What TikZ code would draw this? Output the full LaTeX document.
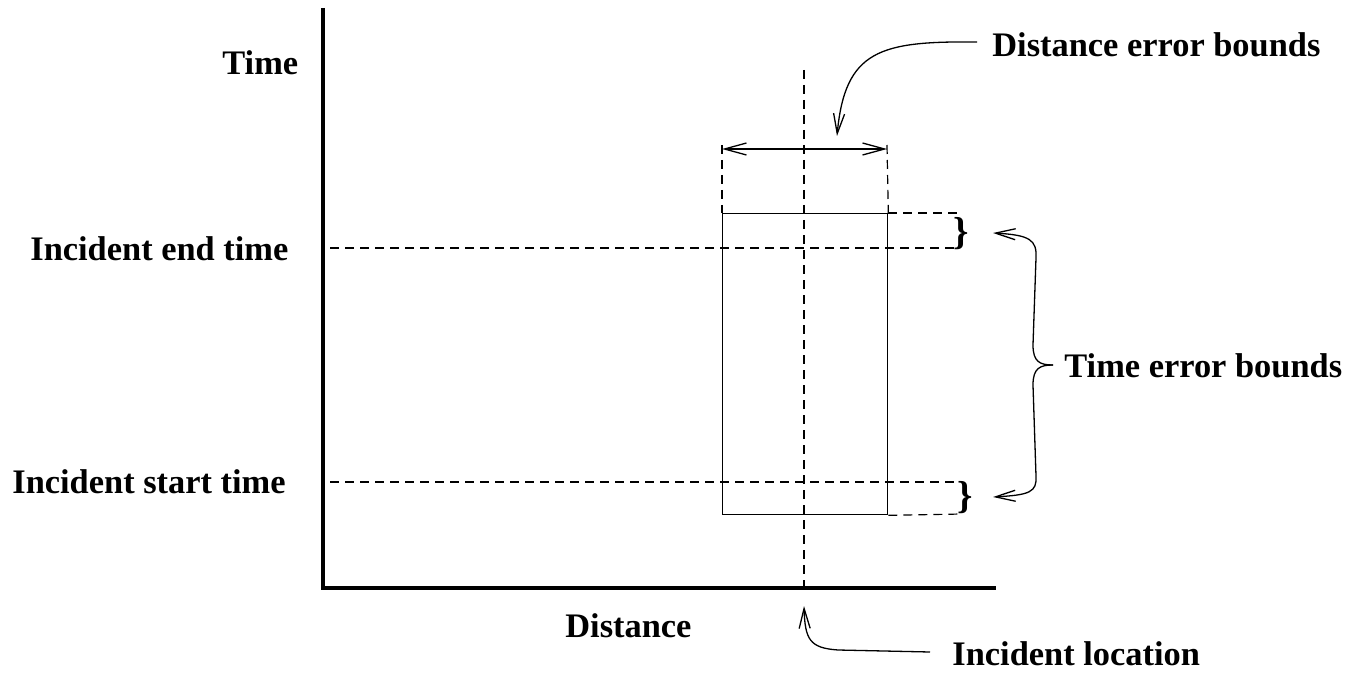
\documentclass[tikz,border=0pt]{standalone}
\usepackage{fontspec}
\setmainfont{Liberation Serif}
\usetikzlibrary{arrows.meta}
\begin{document}
\begin{tikzpicture}[x=0.5pt,y=-0.5pt,
  thinline/.style={line width=0.65pt},
  axisline/.style={line width=2.3pt, line join=miter},
  dashline/.style={line width=0.6pt, dash pattern=on 4.5pt off 3pt},
  arr/.style={thinline, -{Straight Barb[length=10pt,width=5.5pt]}},
  darr/.style={thinline, {Straight Barb[length=11pt,width=6pt]}-{Straight Barb[length=11pt,width=6pt]}},
  lbl/.style={inner sep=0pt, anchor=base west, font=\fontsize{17.2}{20}\selectfont\bfseries},
  brace/.style={inner sep=0pt, anchor=center, font=\fontsize{19.5}{22}\selectfont\bfseries}]
\useasboundingbox (0,0) rectangle (1372,674);

% axes
\coordinate (ytop) at (323,8);
\coordinate (origin) at (323,588);
\coordinate (xend) at (996,588);
\draw[axisline] (ytop) -- (origin) -- (xend);

% labels
\node[lbl] (time) at (222,75) {Time};
\node[lbl] (endt) at (30,260) {Incident end time};
\node[lbl] (startt) at (12,493) {Incident start time};
\node[lbl] (dist) at (565,637) {Distance};
\node[lbl] (loc) at (952,665) {Incident location};
\node[lbl] (deb) at (992,57) {Distance error bounds};
\node[lbl] (teb) at (1064,377) {Time error bounds};

% rectangle
\node[draw, thinline, inner sep=0pt, minimum width=82.5pt, minimum height=150.5pt, anchor=north west] (box) at (722,213) {};

% vertical location line
\coordinate (vtop) at (804,70);
\coordinate (vbot) at (804,590);
\draw[dashline] (vtop) -- (vbot);

% distance bound ticks and arrow
\coordinate (dl) at (722,145);
\coordinate (dr) at (887,145);
\draw[dashline] (dl) -- (box.north west);
\draw[dashline] (dr) -- (box.north east);
\coordinate (al) at (722,149);
\coordinate (ar) at (887,149);
\draw[darr] (al) -- (ar);

% horizontal dashed lines
\coordinate (e1) at (330,248);
\coordinate (e2) at (958,248);
\coordinate (s1) at (330,482);
\coordinate (s2) at (958,482);
\coordinate (t2) at (958,213);
\coordinate (b2) at (962,514);
\draw[dashline] (e1) -- (e2);
\draw[dashline] (s1) -- (s2);
\draw[dashline] (box.north east) -- (t2);
\draw[dashline] (box.south east) -- (b2);

% small braces
\node[brace] (ub) at (961,234) {\}};
\node[brace] (lb) at (965,498) {\}};

% big brace with arrows
\coordinate (btip) at (1053,365);
\coordinate (utip) at (993,233);
\coordinate (ltip) at (993,497);
\draw[arr] (btip) .. controls (1040,365) and (1033,362) .. (1033,345)
  -- (1036,258) .. controls (1037,240) and (1030,235) .. (utip);
\draw[arr] (btip) .. controls (1040,365) and (1033,368) .. (1033,385)
  -- (1036,476) .. controls (1037,492) and (1030,495) .. (ltip);

% distance error bounds arrow
\coordinate (debs) at (977,42);
\coordinate (debt) at (837,136);
\draw[arr] (debs) .. controls (880,41) and (845,50) .. (debt);

% incident location arrow
\coordinate (locs) at (930,652);
\coordinate (loct) at (804,606);
\draw[arr] (locs) -- (838,650) .. controls (810,648) and (805,640) .. (loct);
\end{tikzpicture}
\end{document}
